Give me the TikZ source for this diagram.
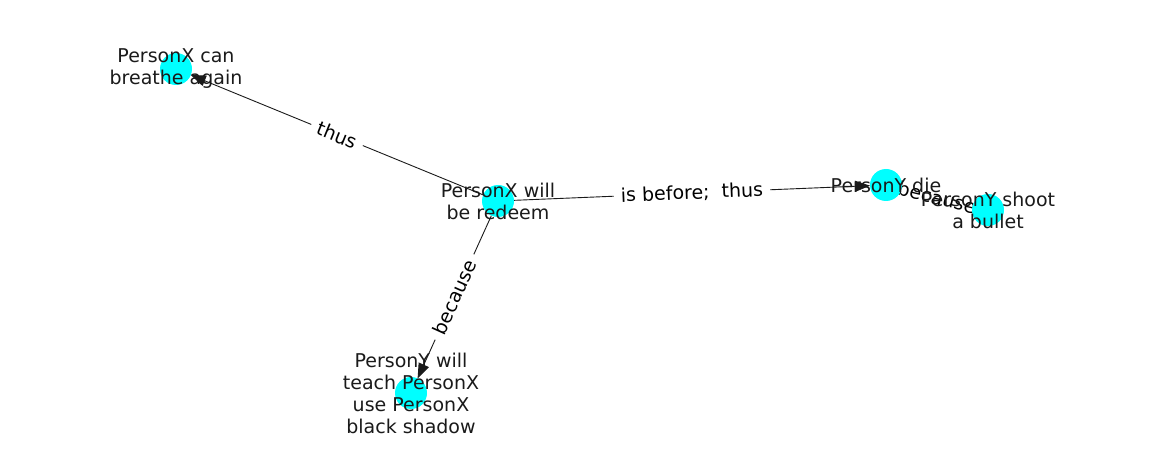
\documentclass[tikz,border=0pt]{standalone}
\usepackage{fontspec}
\setmainfont{DejaVu Sans}
\usetikzlibrary{arrows.meta}
\definecolor{nodecyan}{RGB}{0,255,255}
\definecolor{txt}{RGB}{26,26,26}
\pgfdeclarelayer{fg}
\pgfsetlayers{main,fg}
\begin{document}
\begin{tikzpicture}[x=1pt,y=-1pt,
  vtx/.style={circle, fill=nodecyan, minimum size=32pt, inner sep=0pt, outer sep=0pt},
  lbl/.style={text=txt, align=center, font=\fontsize{19}{22}\selectfont, inner sep=0pt},
  elbl/.style={fill=white, text=black, font=\fontsize{19}{22}\selectfont, sloped, inner sep=3pt, inner xsep=7pt},
  arr/.style={-{Triangle[length=15pt,width=11pt]}, line width=0.9pt, txt}
]
\useasboundingbox (0,0) rectangle (1162,462);
% vertices
\begin{pgfonlayer}{fg}
\node[vtx] (redeem) at (498,201) {};
\node[vtx] (breathe) at (176,69) {};
\node[vtx] (die) at (886,185) {};
\node[vtx] (shoot) at (988,210) {};
\node[vtx] (teach) at (411,393) {};
\end{pgfonlayer}
% edges
\draw[arr] (redeem) -- node[elbl] {thus} (breathe);
\draw[arr] (redeem) -- node[elbl] {is before;\ \ thus} (die);
\draw[arr] (redeem) -- node[elbl] {because} (teach);
\draw[arr] (die) -- node[elbl] {because} (shoot);
% vertex labels
\begin{pgfonlayer}{fg}
\node[lbl] (redeemT) at (redeem.center) {PersonX will\\be redeem};
\node[lbl] (breatheT) at (breathe.center) {PersonX can\\breathe again};
\node[lbl] (dieT) at (die.center) {PersonY die};
\node[lbl] (shootT) at (shoot.center) {PersonY shoot\\a bullet};
\node[lbl] (teachT) at (teach.center) {PersonY will\\teach PersonX\\use PersonX\\black shadow};
\end{pgfonlayer}
\end{tikzpicture}
\end{document}
